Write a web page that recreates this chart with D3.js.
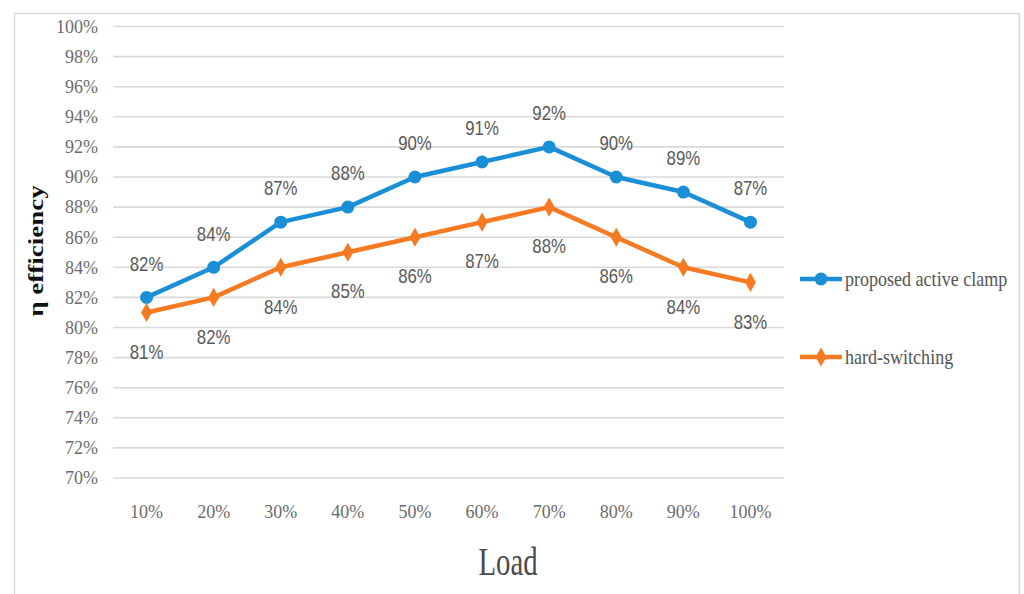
<!DOCTYPE html>
<html>
<head>
<meta charset="utf-8">
<script src="https://cdn.jsdelivr.net/npm/d3@7"></script>
<style>
  html, body { margin: 0; padding: 0; background: #fff; }
  svg { display: block; }
</style>
</head>
<body>
<svg id="chart" width="1024" height="594"></svg>
<script>
// Efficiency versus load for the two converter variants
const loads = ["10%", "20%", "30%", "40%", "50%", "60%", "70%", "80%", "90%", "100%"];
const activeClamp = [82, 84, 87, 88, 90, 91, 92, 90, 89, 87];
const hardSwitching = [81, 82, 84, 85, 86, 87, 88, 86, 84, 83];
const yTicks = [70, 72, 74, 76, 78, 80, 82, 84, 86, 88, 90, 92, 94, 96, 98, 100];
const seriesNames = ["proposed active clamp", "hard-switching"];
const seriesColors = ["#1b8fd6", "#f57a22"];

const svg = d3.select("#chart");
const plot = { left: 113, right: 784, top: 26.5, bottom: 478 };

const serif = "'Liberation Serif', 'Times New Roman', serif";
const sans = "'Liberation Sans Narrow', 'Arial Narrow', 'Liberation Sans', sans-serif";

// outer frame
svg.append("rect")
  .attr("x", 14.5).attr("y", 13.5)
  .attr("width", 1005).attr("height", 600)
  .attr("fill", "#fff")
  .attr("stroke", "#d9d9d9").attr("stroke-width", 1.5);

const x = d3.scalePoint().domain(loads).range([plot.left, plot.right]).padding(0.5);
const y = d3.scaleLinear().domain([70, 100]).range([plot.bottom, plot.top]);

// horizontal gridlines
svg.append("g").selectAll("line")
  .data(yTicks).join("line")
  .attr("x1", plot.left).attr("x2", plot.right)
  .attr("y1", d => y(d)).attr("y2", d => y(d))
  .attr("stroke", "#d9d9d9").attr("stroke-width", 1.6);

// y tick labels
svg.append("g").selectAll("text")
  .data(yTicks).join("text")
  .attr("x", 98).attr("y", d => y(d))
  .attr("dy", "0.35em")
  .attr("text-anchor", "end")
  .attr("font-family", serif).attr("font-size", 18)
  .attr("fill", "#6b6b6b")
  .text(d => d + "%");

// x tick labels
svg.append("g").selectAll("text")
  .data(loads).join("text")
  .attr("x", d => x(d)).attr("y", 512)
  .attr("dy", "0.35em")
  .attr("text-anchor", "middle")
  .attr("font-family", serif).attr("font-size", 18)
  .attr("fill", "#6b6b6b")
  .text(d => d);

// axis titles
svg.append("text")
  .attr("transform", "translate(508,575) scale(0.72,1)")
  .attr("text-anchor", "middle")
  .attr("font-family", serif).attr("font-size", 40)
  .attr("fill", "#4a4a4a")
  .text("Load");

svg.append("text")
  .attr("transform", "translate(37,251) rotate(-90) scale(1,0.75)")
  .attr("text-anchor", "middle")
  .attr("dy", "0.32em")
  .attr("font-family", serif).attr("font-size", 27).attr("font-weight", "bold")
  .attr("fill", "#111")
  .text("η efficiency");

const diamond = d3.symbol().type(d3.symbolDiamond).size(105);

const series = [
  { name: seriesNames[0], values: activeClamp, color: seriesColors[0], marker: "circle", labelDy: -34 },
  { name: seriesNames[1], values: hardSwitching, color: seriesColors[1], marker: "diamond", labelDy: 39 }
];

const line = d3.line().x((d, i) => x(loads[i])).y(d => y(d));

series.forEach(s => {
  const g = svg.append("g");
  g.append("path")
    .attr("d", line(s.values))
    .attr("fill", "none")
    .attr("stroke", s.color).attr("stroke-width", 4.5)
    .attr("stroke-linejoin", "round");
  if (s.marker === "circle") {
    g.selectAll("circle").data(s.values).join("circle")
      .attr("cx", (d, i) => x(loads[i])).attr("cy", d => y(d))
      .attr("r", 6.5).attr("fill", s.color);
  } else {
    g.selectAll("path.m").data(s.values).join("path")
      .attr("class", "m")
      .attr("transform", (d, i) => `translate(${x(loads[i])},${y(d)})`)
      .attr("d", diamond).attr("fill", s.color);
  }
  // value labels
  g.selectAll("text").data(s.values).join("text")
    .attr("transform", (d, i) => `translate(${x(loads[i])},${y(d) + s.labelDy}) scale(0.84,1)`)
    .attr("dy", "0.36em")
    .attr("text-anchor", "middle")
    .attr("font-family", sans).attr("font-size", 20)
    .attr("fill", "#595959")
    .text(d => d + "%");
});

// legend
const legendY = [279, 357];
series.forEach((s, i) => {
  const g = svg.append("g");
  g.append("line")
    .attr("x1", 800).attr("x2", 842)
    .attr("y1", legendY[i]).attr("y2", legendY[i])
    .attr("stroke", s.color).attr("stroke-width", 4.5);
  if (s.marker === "circle") {
    g.append("circle").attr("cx", 821).attr("cy", legendY[i]).attr("r", 6.5).attr("fill", s.color);
  } else {
    g.append("path").attr("transform", `translate(821,${legendY[i]})`).attr("d", diamond).attr("fill", s.color);
  }
  g.append("text")
    .attr("transform", `translate(845,${legendY[i]}) scale(0.82,1)`)
    .attr("dy", "0.32em")
    .attr("font-family", serif).attr("font-size", 22)
    .attr("fill", "#555")
    .text(s.name);
});
</script>
</body>
</html>
